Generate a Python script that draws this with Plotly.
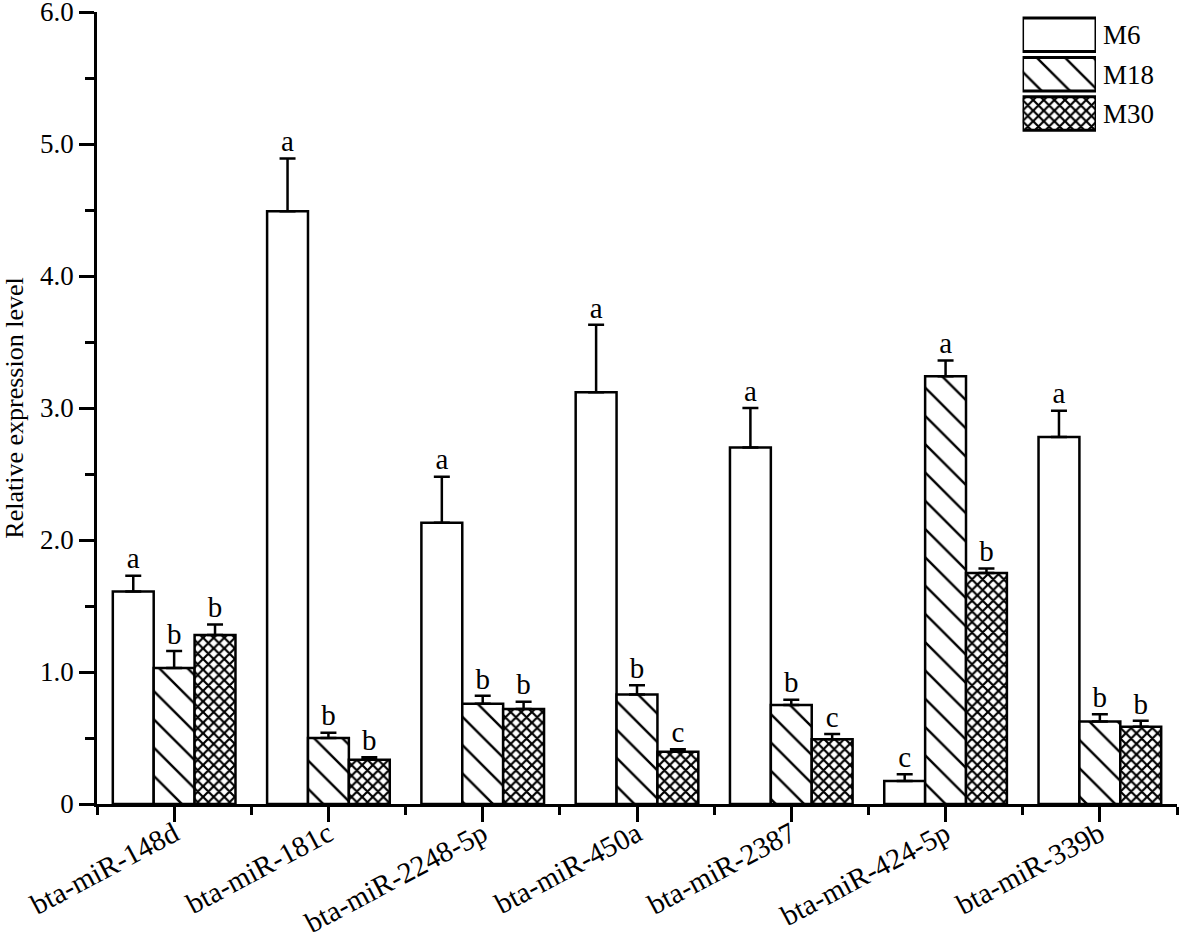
import plotly.graph_objects as go

# ---------------- data ----------------
categories = ["bta-miR-148d", "bta-miR-181c", "bta-miR-2248-5p", "bta-miR-450a",
              "bta-miR-2387", "bta-miR-424-5p", "bta-miR-339b"]
series_names = ["M6", "M18", "M30"]

m6_mean = [1.61, 4.49, 2.13, 3.12, 2.70, 0.175, 2.78]
m6_err = [0.12, 0.40, 0.35, 0.51, 0.30, 0.05, 0.20]
m6_letters = ["a", "a", "a", "a", "a", "c", "a"]

m18_mean = [1.03, 0.50, 0.76, 0.83, 0.75, 3.24, 0.625]
m18_err = [0.13, 0.04, 0.06, 0.07, 0.04, 0.12, 0.055]
m18_letters = ["b", "b", "b", "b", "b", "a", "b"]

m30_mean = [1.28, 0.335, 0.72, 0.395, 0.49, 1.75, 0.585]
m30_err = [0.08, 0.02, 0.055, 0.02, 0.04, 0.035, 0.045]
m30_letters = ["b", "b", "b", "c", "c", "b", "b"]

y_tickvals = [0, 1, 2, 3, 4, 5, 6]
y_ticktext = ["0", "1.0", "2.0", "3.0", "4.0", "5.0", "6.0"]

# ---------------- styling ----------------
FONT = "Liberation Serif"
FS = 27
BAR_W = 0.265
LW = 2.5

patterns = [
    dict(shape="", bgcolor="white", fgcolor="black"),
    dict(shape="\\", bgcolor="white", fgcolor="black", fgopacity=1, size=20, solidity=0.12),
    dict(shape="x", bgcolor="white", fgcolor="black", fgopacity=1, size=7.5, solidity=0.5),
]

means = [m6_mean, m18_mean, m30_mean]
errs = [m6_err, m18_err, m30_err]
letters = [m6_letters, m18_letters, m30_letters]

fig = go.Figure()
n = len(categories)
for k, name in enumerate(series_names):
    xs = [i + (k - 1) * BAR_W for i in range(n)]
    fig.add_trace(go.Bar(
        x=xs, y=means[k], width=BAR_W, name=name, showlegend=False,
        marker=dict(color="white", line=dict(color="black", width=LW),
                    pattern=patterns[k]),
        error_y=dict(type="data", symmetric=False, array=errs[k],
                     arrayminus=[0] * n, color="black", thickness=LW, width=8),
    ))
for k, name in enumerate(series_names):
    xs = [i + (k - 1) * BAR_W for i in range(n)]
    tops = [m + e for m, e in zip(means[k], errs[k])]
    fig.add_trace(go.Scatter(
        x=xs, y=tops, mode="text", text=letters[k], textposition="top center",
        textfont=dict(family=FONT, size=29, color="black"),
        showlegend=False, cliponaxis=False, hoverinfo="skip",
    ))

# custom legend drawn as small bars on an overlay axis
for k, name in enumerate(series_names):
    fig.add_trace(go.Bar(
        x=[1], y=[name], orientation="h", width=0.85, xaxis="x2", yaxis="y2",
        showlegend=False,
        marker=dict(color="white", line=dict(color="black", width=3),
                    pattern=patterns[k]),
    ))

fig.update_layout(
    template="none",
    width=1179, height=938,
    margin=dict(l=97, r=2, t=12, b=134, autoexpand=False),
    plot_bgcolor="white", paper_bgcolor="white",
    font=dict(family=FONT, size=FS, color="black"),
    barmode="overlay",
    showlegend=False,
    xaxis=dict(
        range=[-0.5, n - 0.5], tickmode="array", tickvals=list(range(n)),
        ticktext=categories, tickangle=-28, showline=True, linecolor="black",
        linewidth=LW, ticks="outside", ticklen=15, tickwidth=LW, tickcolor="black",
        showgrid=False, zeroline=False, automargin=False, ticklabelstandoff=-16,
        tickfont=dict(family=FONT, size=29),
        minor=dict(tickmode="array", tickvals=[i - 0.5 for i in range(n + 1)],
                   ticks="outside", ticklen=8, tickwidth=LW, tickcolor="black",
                   showgrid=False),
    ),
    yaxis=dict(
        range=[0, 6], tickmode="array", tickvals=y_tickvals, ticktext=y_ticktext,
        showline=True, linecolor="black", linewidth=LW, ticks="outside",
        ticklen=15, tickwidth=LW, tickcolor="black", showgrid=False,
        zeroline=False, automargin=False, ticklabeloverflow="allow",
        tickfont=dict(family=FONT, size=FS),
        title=dict(text="Relative expression level", font=dict(family=FONT, size=26),
                   standoff=10),
        minor=dict(dtick=0.5, ticks="outside", ticklen=9, tickwidth=LW,
                   tickcolor="black", showgrid=False),
    ),
    xaxis2=dict(domain=[0.857, 0.925], range=[0, 1], anchor="y2", visible=False,
                fixedrange=True, automargin=False),
    yaxis2=dict(domain=[0.847, 0.996], anchor="x2", side="right",
                categoryorder="array", categoryarray=series_names,
                autorange="reversed", showline=False, showgrid=False,
                zeroline=False, ticks="", ticklabelstandoff=6, automargin=False,
                tickfont=dict(family=FONT, size=FS)),
)

fig.write_html("out.html", config={"displayModeBar": False},
               post_script="document.body.style.margin='0';document.body.style.overflow='hidden';")
